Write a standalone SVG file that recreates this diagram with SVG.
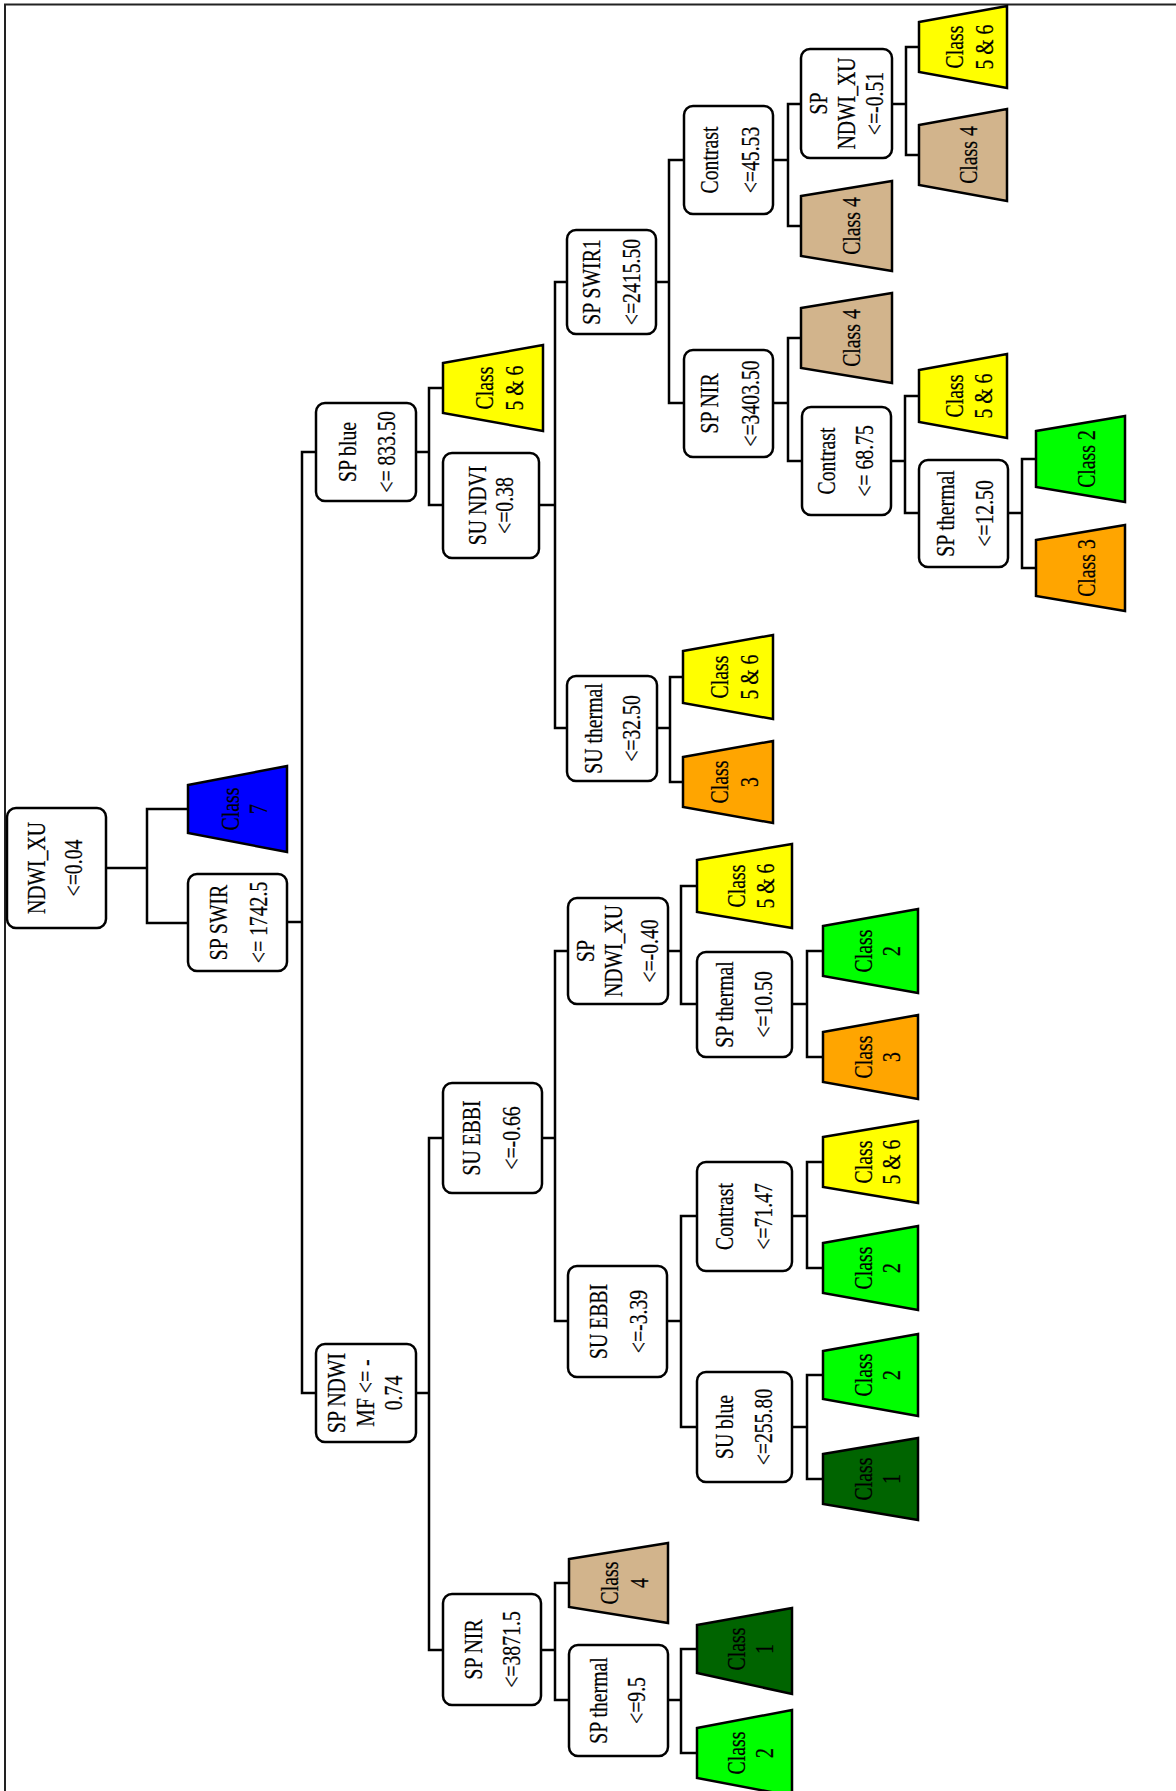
<svg xmlns="http://www.w3.org/2000/svg" width="1176" height="1791" viewBox="0 0 1176 1791">
<style>
.box{fill:#fff;stroke:#000;stroke-width:2.5}
.trap{stroke:#000;stroke-width:2.5;stroke-linejoin:miter}
.t{font-family:"Liberation Serif","Times New Roman",serif;font-size:26px;fill:#000;text-anchor:middle;stroke:#000;stroke-width:0.25}
.conn{fill:none;stroke:#000;stroke-width:2.5}
.y{fill:#FFFF00}.g{fill:#00FF00}.o{fill:#FFA500}.tan{fill:#D2B48C}.dg{fill:#006400}.b{fill:#0000FF}
</style>
<rect width="1176" height="1791" fill="#fff"/>
<path d="M5,1791 V4.5 H1176" fill="none" stroke="#222" stroke-width="2"/>
<g id="connectors">
<path class="conn" d="M106,868 H147 M188,809 H147 V923 H188"/>
<path class="conn" d="M287,922 H302 M316,452 H302 V1393 H316"/>
<path class="conn" d="M416,452 H429 M443,388 H429 V505 H443"/>
<path class="conn" d="M416,1393 H429 M443,1138 H429 V1650 H443"/>
<path class="conn" d="M539,505 H555 M567,282 H555 V728 H567"/>
<path class="conn" d="M542,1138 H555 M568,951 H555 V1321 H568"/>
<path class="conn" d="M541,1650 H555 M569,1583 H555 V1700 H569"/>
<path class="conn" d="M656,282 H669 M684,160 H669 V403 H684"/>
<path class="conn" d="M657,728 H670 M683,677 H670 V782 H683"/>
<path class="conn" d="M668,951 H681 M697,886 H681 V1004 H697"/>
<path class="conn" d="M667,1321 H681 M697,1216 H681 V1427 H697"/>
<path class="conn" d="M668,1700 H681 M697,1649 H681 V1753 H697"/>
<path class="conn" d="M773,160 H788 M801,104 H788 V226 H801"/>
<path class="conn" d="M773,403 H788 M801,338 H788 V461 H802"/>
<path class="conn" d="M792,1004 H807 M823,951 H807 V1057 H823"/>
<path class="conn" d="M792,1216 H807 M823,1162 H807 V1268 H823"/>
<path class="conn" d="M792,1427 H807 M823,1375 H807 V1479 H823"/>
<path class="conn" d="M892,104 H906 M919,47 H906 V155 H919"/>
<path class="conn" d="M891,461 H905 M919,396 H905 V513 H919"/>
<path class="conn" d="M1008,513 H1022 M1036,459 H1022 V568 H1036"/>
</g>
<g id="n1"><rect class="box" x="7" y="808" width="99" height="120" rx="9"/>
<text class="t" transform="translate(45,868) rotate(-90) scale(0.76,1)">NDWI_XU</text>
<text class="t" transform="translate(82,868) rotate(-90) scale(0.76,1)">&lt;=0.04</text></g>
<g id="n2"><rect class="box" x="188" y="874" width="99" height="97" rx="9"/>
<text class="t" transform="translate(227,922.5) rotate(-90) scale(0.76,1)">SP SWIR</text>
<text class="t" transform="translate(267,922.5) rotate(-90) scale(0.76,1)">&lt;= 1742.5</text></g>
<g id="n3"><rect class="box" x="316" y="403" width="100" height="98" rx="9"/>
<text class="t" transform="translate(356,452) rotate(-90) scale(0.76,1)">SP blue</text>
<text class="t" transform="translate(395,452) rotate(-90) scale(0.76,1)">&lt;= 833.50</text></g>
<g id="n4"><rect class="box" x="316" y="1344" width="100" height="98" rx="9"/>
<text class="t" transform="translate(345,1393) rotate(-90) scale(0.76,1)">SP NDWI</text>
<text class="t" transform="translate(374,1393) rotate(-90) scale(0.76,1)">MF &lt;= -</text>
<text class="t" transform="translate(402,1393) rotate(-90) scale(0.76,1)">0.74</text></g>
<g id="n5"><rect class="box" x="443" y="453" width="96" height="105" rx="9"/>
<text class="t" transform="translate(486,505.5) rotate(-90) scale(0.76,1)">SU NDVI</text>
<text class="t" transform="translate(513,505.5) rotate(-90) scale(0.76,1)">&lt;=0.38</text></g>
<g id="n6"><rect class="box" x="443" y="1083" width="99" height="110" rx="9"/>
<text class="t" transform="translate(480,1138) rotate(-90) scale(0.76,1)">SU EBBI</text>
<text class="t" transform="translate(520,1138) rotate(-90) scale(0.76,1)">&lt;=-0.66</text></g>
<g id="n7"><rect class="box" x="443" y="1594" width="98" height="111" rx="9"/>
<text class="t" transform="translate(482,1649.5) rotate(-90) scale(0.76,1)">SP NIR</text>
<text class="t" transform="translate(520,1649.5) rotate(-90) scale(0.76,1)">&lt;=3871.5</text></g>
<g id="n8"><rect class="box" x="567" y="230" width="89" height="104" rx="9"/>
<text class="t" transform="translate(600,282) rotate(-90) scale(0.76,1)">SP SWIR1</text>
<text class="t" transform="translate(640,282) rotate(-90) scale(0.76,1)">&lt;=2415.50</text></g>
<g id="n9"><rect class="box" x="567" y="676" width="90" height="105" rx="9"/>
<text class="t" transform="translate(602,728.5) rotate(-90) scale(0.76,1)">SU thermal</text>
<text class="t" transform="translate(640,728.5) rotate(-90) scale(0.76,1)">&lt;=32.50</text></g>
<g id="n10"><rect class="box" x="568" y="898" width="100" height="106" rx="9"/>
<text class="t" transform="translate(594,951) rotate(-90) scale(0.76,1)">SP</text>
<text class="t" transform="translate(622,951) rotate(-90) scale(0.76,1)">NDWI_XU</text>
<text class="t" transform="translate(658,951) rotate(-90) scale(0.76,1)">&lt;=-0.40</text></g>
<g id="n11"><rect class="box" x="568" y="1266" width="99" height="111" rx="9"/>
<text class="t" transform="translate(607,1321.5) rotate(-90) scale(0.76,1)">SU EBBI</text>
<text class="t" transform="translate(647,1321.5) rotate(-90) scale(0.76,1)">&lt;=-3.39</text></g>
<g id="n12"><rect class="box" x="569" y="1645" width="99" height="111" rx="9"/>
<text class="t" transform="translate(607,1700.5) rotate(-90) scale(0.76,1)">SP thermal</text>
<text class="t" transform="translate(645,1700.5) rotate(-90) scale(0.76,1)">&lt;=9.5</text></g>
<g id="n13"><rect class="box" x="684" y="106" width="89" height="108" rx="9"/>
<text class="t" transform="translate(718,160) rotate(-90) scale(0.76,1)">Contrast</text>
<text class="t" transform="translate(759,160) rotate(-90) scale(0.76,1)">&lt;=45.53</text></g>
<g id="n14"><rect class="box" x="684" y="350" width="89" height="107" rx="9"/>
<text class="t" transform="translate(718,403.5) rotate(-90) scale(0.76,1)">SP NIR</text>
<text class="t" transform="translate(759,403.5) rotate(-90) scale(0.76,1)">&lt;=3403.50</text></g>
<g id="n15"><rect class="box" x="697" y="952" width="95" height="105" rx="9"/>
<text class="t" transform="translate(733,1004.5) rotate(-90) scale(0.76,1)">SP thermal</text>
<text class="t" transform="translate(772,1004.5) rotate(-90) scale(0.76,1)">&lt;=10.50</text></g>
<g id="n16"><rect class="box" x="697" y="1162" width="95" height="109" rx="9"/>
<text class="t" transform="translate(733,1216.5) rotate(-90) scale(0.76,1)">Contrast</text>
<text class="t" transform="translate(772,1216.5) rotate(-90) scale(0.76,1)">&lt;=71.47</text></g>
<g id="n17"><rect class="box" x="697" y="1372" width="95" height="110" rx="9"/>
<text class="t" transform="translate(733,1427) rotate(-90) scale(0.76,1)">SU blue</text>
<text class="t" transform="translate(772,1427) rotate(-90) scale(0.76,1)">&lt;=255.80</text></g>
<g id="n18"><rect class="box" x="801" y="49" width="91" height="109" rx="9"/>
<text class="t" transform="translate(827,103.5) rotate(-90) scale(0.76,1)">SP</text>
<text class="t" transform="translate(855,103.5) rotate(-90) scale(0.76,1)">NDWI_XU</text>
<text class="t" transform="translate(883,103.5) rotate(-90) scale(0.76,1)">&lt;=-0.51</text></g>
<g id="n19"><rect class="box" x="802" y="407" width="89" height="108" rx="9"/>
<text class="t" transform="translate(835,461) rotate(-90) scale(0.76,1)">Contrast</text>
<text class="t" transform="translate(873,461) rotate(-90) scale(0.76,1)">&lt;= 68.75</text></g>
<g id="n20"><rect class="box" x="919" y="460" width="89" height="107" rx="9"/>
<text class="t" transform="translate(954,513.5) rotate(-90) scale(0.76,1)">SP thermal</text>
<text class="t" transform="translate(993,513.5) rotate(-90) scale(0.76,1)">&lt;=12.50</text></g>
<g id="t1"><polygon class="trap b" points="188,785 287,766 287,852 188,833"/>
<text class="t" transform="translate(239,809) rotate(-90) scale(0.76,1)">Class</text>
<text class="t" transform="translate(267,809) rotate(-90) scale(0.76,1)">7</text></g>
<g id="t2"><polygon class="trap y" points="443,363 543,345 543,431 443,413"/>
<text class="t" transform="translate(493,388) rotate(-90) scale(0.76,1)">Class</text>
<text class="t" transform="translate(523,388) rotate(-90) scale(0.76,1)">5 &amp; 6</text></g>
<g id="t3"><polygon class="trap y" points="683,651 773,635 773,719 683,703"/>
<text class="t" transform="translate(728,677) rotate(-90) scale(0.76,1)">Class</text>
<text class="t" transform="translate(758,677) rotate(-90) scale(0.76,1)">5 &amp; 6</text></g>
<g id="t4"><polygon class="trap o" points="683,757 773,741 773,823 683,807"/>
<text class="t" transform="translate(728,782) rotate(-90) scale(0.76,1)">Class</text>
<text class="t" transform="translate(758,782) rotate(-90) scale(0.76,1)">3</text></g>
<g id="t5"><polygon class="trap y" points="697,860 792,844 792,928 697,912"/>
<text class="t" transform="translate(745,886) rotate(-90) scale(0.76,1)">Class</text>
<text class="t" transform="translate(774,886) rotate(-90) scale(0.76,1)">5 &amp; 6</text></g>
<g id="t6"><polygon class="trap g" points="823,926 918,909 918,993 823,976"/>
<text class="t" transform="translate(872,951) rotate(-90) scale(0.76,1)">Class</text>
<text class="t" transform="translate(900,951) rotate(-90) scale(0.76,1)">2</text></g>
<g id="t7"><polygon class="trap o" points="823,1032 918,1015 918,1099 823,1082"/>
<text class="t" transform="translate(872,1057) rotate(-90) scale(0.76,1)">Class</text>
<text class="t" transform="translate(900,1057) rotate(-90) scale(0.76,1)">3</text></g>
<g id="t8"><polygon class="trap y" points="823,1137 918,1121 918,1203 823,1187"/>
<text class="t" transform="translate(872,1162) rotate(-90) scale(0.76,1)">Class</text>
<text class="t" transform="translate(900,1162) rotate(-90) scale(0.76,1)">5 &amp; 6</text></g>
<g id="t9"><polygon class="trap g" points="823,1243 918,1226 918,1310 823,1293"/>
<text class="t" transform="translate(872,1268) rotate(-90) scale(0.76,1)">Class</text>
<text class="t" transform="translate(900,1268) rotate(-90) scale(0.76,1)">2</text></g>
<g id="t10"><polygon class="trap g" points="823,1351 918,1334 918,1416 823,1399"/>
<text class="t" transform="translate(872,1375) rotate(-90) scale(0.76,1)">Class</text>
<text class="t" transform="translate(900,1375) rotate(-90) scale(0.76,1)">2</text></g>
<g id="t11"><polygon class="trap dg" points="823,1454 918,1438 918,1520 823,1504"/>
<text class="t" transform="translate(872,1479) rotate(-90) scale(0.76,1)">Class</text>
<text class="t" transform="translate(900,1479) rotate(-90) scale(0.76,1)">1</text></g>
<g id="t12"><polygon class="trap tan" points="569,1559 668,1543 668,1623 569,1607"/>
<text class="t" transform="translate(618,1583) rotate(-90) scale(0.76,1)">Class</text>
<text class="t" transform="translate(648,1583) rotate(-90) scale(0.76,1)">4</text></g>
<g id="t13"><polygon class="trap dg" points="697,1625 792,1608 792,1694 697,1673"/>
<text class="t" transform="translate(745,1649) rotate(-90) scale(0.76,1)">Class</text>
<text class="t" transform="translate(773,1649) rotate(-90) scale(0.76,1)">1</text></g>
<g id="t14"><polygon class="trap g" points="697,1728 792,1710 792,1796 697,1778"/>
<text class="t" transform="translate(745,1753) rotate(-90) scale(0.76,1)">Class</text>
<text class="t" transform="translate(773,1753) rotate(-90) scale(0.76,1)">2</text></g>
<g id="t15"><polygon class="trap tan" points="801,196 892,181 892,271 801,256"/>
<text class="t" transform="translate(860,226) rotate(-90) scale(0.76,1)">Class 4</text></g>
<g id="t16"><polygon class="trap tan" points="801,308 892,293 892,383 801,368"/>
<text class="t" transform="translate(860,338) rotate(-90) scale(0.76,1)">Class 4</text></g>
<g id="t17"><polygon class="trap y" points="919,22 1007,6 1007,88 919,72"/>
<text class="t" transform="translate(963,47) rotate(-90) scale(0.76,1)">Class</text>
<text class="t" transform="translate(993,47) rotate(-90) scale(0.76,1)">5 &amp; 6</text></g>
<g id="t18"><polygon class="trap tan" points="919,125 1007,109 1007,201 919,185"/>
<text class="t" transform="translate(977,155) rotate(-90) scale(0.76,1)">Class 4</text></g>
<g id="t19"><polygon class="trap y" points="919,370 1007,354 1007,438 919,422"/>
<text class="t" transform="translate(963,396) rotate(-90) scale(0.76,1)">Class</text>
<text class="t" transform="translate(992,396) rotate(-90) scale(0.76,1)">5 &amp; 6</text></g>
<g id="t20"><polygon class="trap g" points="1036,431 1125,416 1125,502 1036,487"/>
<text class="t" transform="translate(1095,459) rotate(-90) scale(0.76,1)">Class 2</text></g>
<g id="t21"><polygon class="trap o" points="1036,540 1125,525 1125,611 1036,596"/>
<text class="t" transform="translate(1095,568) rotate(-90) scale(0.76,1)">Class 3</text></g>
</svg>
